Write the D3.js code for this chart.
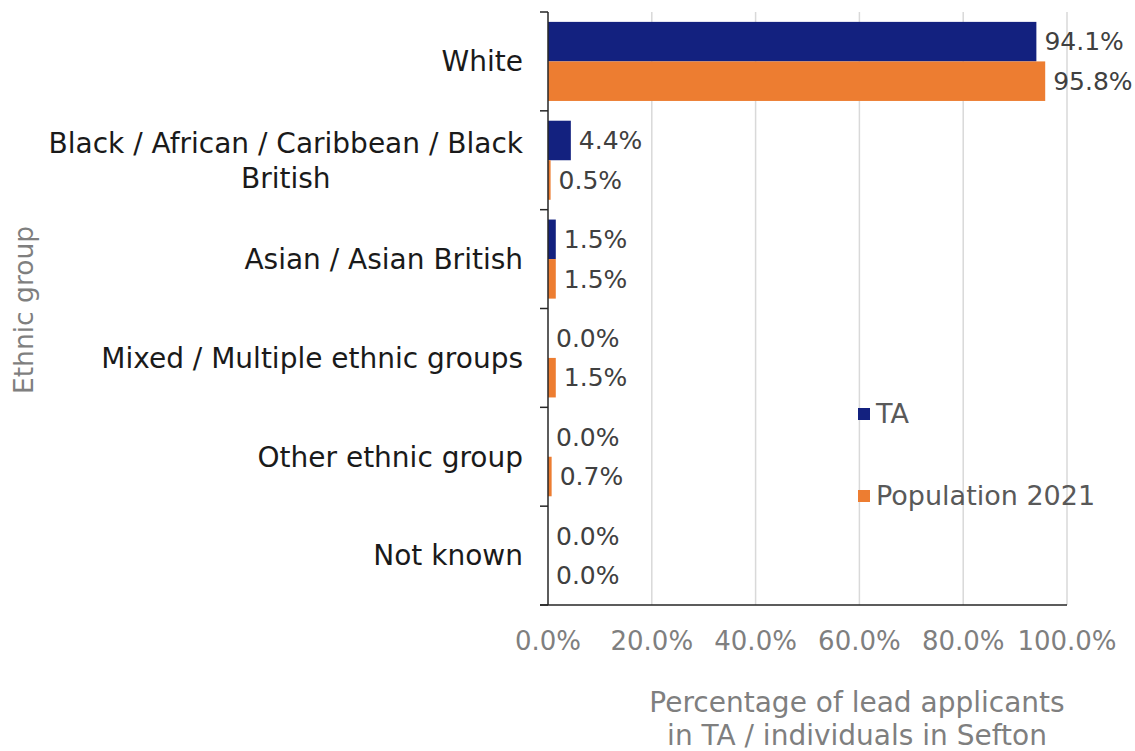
<!DOCTYPE html>
<html>
<head>
<meta charset="utf-8">
<script src="https://cdn.jsdelivr.net/npm/d3@7/dist/d3.min.js"></script>
<style>
  body { margin: 0; background: #fff; }
  text { font-family: "DejaVu Sans", sans-serif; }
  .grid line { stroke: #d9d9d9; stroke-width: 1.5; }
</style>
</head>
<body>
<script>
// chart data
var categories = ["White", "Black / African / Caribbean / Black British", "Asian / Asian British",
                  "Mixed / Multiple ethnic groups", "Other ethnic group", "Not known"];
var seriesNames = ["TA", "Population 2021"];
var taValues = [94.1, 4.4, 1.5, 0.0, 0.0, 0.0];
var popValues = [95.8, 0.5, 1.5, 1.5, 0.7, 0.0];
var xTicks = [0, 20, 40, 60, 80, 100];
var colors = ["#13217f", "#ed7d31"];

var width = 1135,
    height = 751,
    margin = {top: 12, right: 68, bottom: 146, left: 548};

var svg = d3.select("body")
    .append("svg")
    .attr("width", width)
    .attr("height", height);

var x = d3.scaleLinear()
    .domain([0, 100])
    .range([margin.left, width - margin.right]);

var y0 = d3.scaleBand()
    .domain(categories)
    .range([margin.top, height - margin.bottom]);

var y1 = d3.scaleBand()
    .domain(seriesNames)
    .range([0, y0.bandwidth()])
    .paddingOuter(0.25);

//gridlines
svg.append("g")
    .attr("class", "grid")
    .selectAll("line")
    .data(xTicks.slice(1))
    .enter()
    .append("line")
    .attr("x1", function(d){ return x(d); })
    .attr("x2", function(d){ return x(d); })
    .attr("y1", margin.top)
    .attr("y2", height - margin.bottom);

//bars, one group per category
var rows = categories.map(function(c, i){
    return {cat: c, vals: [taValues[i], popValues[i]]};
});

var groups = svg.selectAll(".cat")
    .data(rows)
    .enter()
    .append("g")
    .attr("class", "cat")
    .attr("transform", function(d){ return "translate(0," + y0(d.cat) + ")"; });

groups.selectAll("rect")
    .data(function(d){ return d.vals.map(function(v, j){ return {s: seriesNames[j], v: v, j: j}; }); })
    .enter()
    .append("rect")
    .attr("x", x(0))
    .attr("y", function(d){ return y1(d.s); })
    .attr("width", function(d){ return x(d.v) - x(0); })
    .attr("height", y1.bandwidth())
    .attr("fill", function(d){ return colors[d.j]; });

groups.selectAll(".val")
    .data(function(d){ return d.vals.map(function(v, j){ return {s: seriesNames[j], v: v}; }); })
    .enter()
    .append("text")
    .attr("class", "val")
    .attr("x", function(d){ return x(d.v) + 8; })
    .attr("y", function(d){ return y1(d.s) + y1.bandwidth() / 2; })
    .attr("dy", "0.35em")
    .attr("font-size", 25)
    .attr("fill", "#404040")
    .text(function(d){ return d.v.toFixed(1) + "%"; });

//category axis
var yAxis = svg.append("g")
    .attr("transform", "translate(" + x(0) + ",0)");

yAxis.append("line")
    .attr("x1", 0).attr("x2", 0)
    .attr("y1", margin.top).attr("y2", height - margin.bottom)
    .attr("stroke", "#262626").attr("stroke-width", 1.5);

yAxis.selectAll(".tick")
    .data(categories.concat([null]))
    .enter()
    .append("line")
    .attr("x1", -8).attr("x2", 0)
    .attr("y1", function(d, i){ return margin.top + i * y0.step(); })
    .attr("y2", function(d, i){ return margin.top + i * y0.step(); })
    .attr("stroke", "#262626").attr("stroke-width", 1.5);

var catLabels = yAxis.selectAll(".catLabel")
    .data(categories)
    .enter()
    .append("text")
    .attr("class", "catLabel")
    .attr("text-anchor", "end")
    .attr("font-size", 28)
    .attr("fill", "#1a1a1a")
    .attr("y", function(d){ return y0(d) + y0.bandwidth() / 2; });

catLabels.each(function(d){
    var t = d3.select(this);
    var lines = d === "Black / African / Caribbean / Black British"
        ? ["Black / African / Caribbean / Black", "British"] : [d];
    lines.forEach(function(l, k){
        t.append("tspan")
            .attr("x", -25)
            .attr("dy", k === 0 ? (0.35 - (lines.length - 1) * 0.625) + "em" : "1.25em")
            .text(l);
    });
});

// centre second line of wrapped label under the first
catLabels.filter(function(d){ return d.indexOf("Black") === 0; })
    .each(function(){
        var spans = d3.select(this).selectAll("tspan").nodes();
        var w0 = spans[0].getComputedTextLength();
        d3.select(spans[1]).attr("x", -25 - w0 / 2).attr("text-anchor", "middle");
    });

//value axis
svg.append("line")
    .attr("x1", x(0) - 8).attr("x2", x(100))
    .attr("y1", height - margin.bottom).attr("y2", height - margin.bottom)
    .attr("stroke", "#262626").attr("stroke-width", 1.5);

svg.selectAll(".xtick")
    .data(xTicks)
    .enter()
    .append("text")
    .attr("class", "xtick")
    .attr("x", function(d){ return x(d); })
    .attr("y", 641)
    .attr("dy", "0.35em")
    .attr("text-anchor", "middle")
    .attr("font-size", 26)
    .attr("fill", "#7f7f7f")
    .text(function(d){ return d.toFixed(1) + "%"; });

//axis titles
var xTitle = svg.append("text")
    .attr("text-anchor", "middle")
    .attr("font-size", 28)
    .attr("fill", "#7f7f7f");
xTitle.append("tspan").attr("x", 857).attr("y", 712).text("Percentage of lead applicants");
xTitle.append("tspan").attr("x", 857).attr("y", 745).text("in TA / individuals in Sefton");

svg.append("text")
    .attr("transform", "translate(33,310) rotate(-90)")
    .attr("text-anchor", "middle")
    .attr("font-size", 26.5)
    .attr("fill", "#7f7f7f")
    .text("Ethnic group");

//legend
var legendY = [414, 496];
var legend = svg.selectAll(".legend")
    .data(seriesNames)
    .enter()
    .append("g")
    .attr("class", "legend")
    .attr("transform", function(d, i){ return "translate(858," + legendY[i] + ")"; });

legend.append("rect")
    .attr("x", 0).attr("y", -6)
    .attr("width", 12).attr("height", 12)
    .attr("fill", function(d, i){ return colors[i]; });

legend.append("text")
    .attr("x", 18)
    .attr("dy", "0.35em")
    .attr("font-size", 27)
    .attr("fill", "#595959")
    .text(function(d){ return d; });
</script>
</body>
</html>
